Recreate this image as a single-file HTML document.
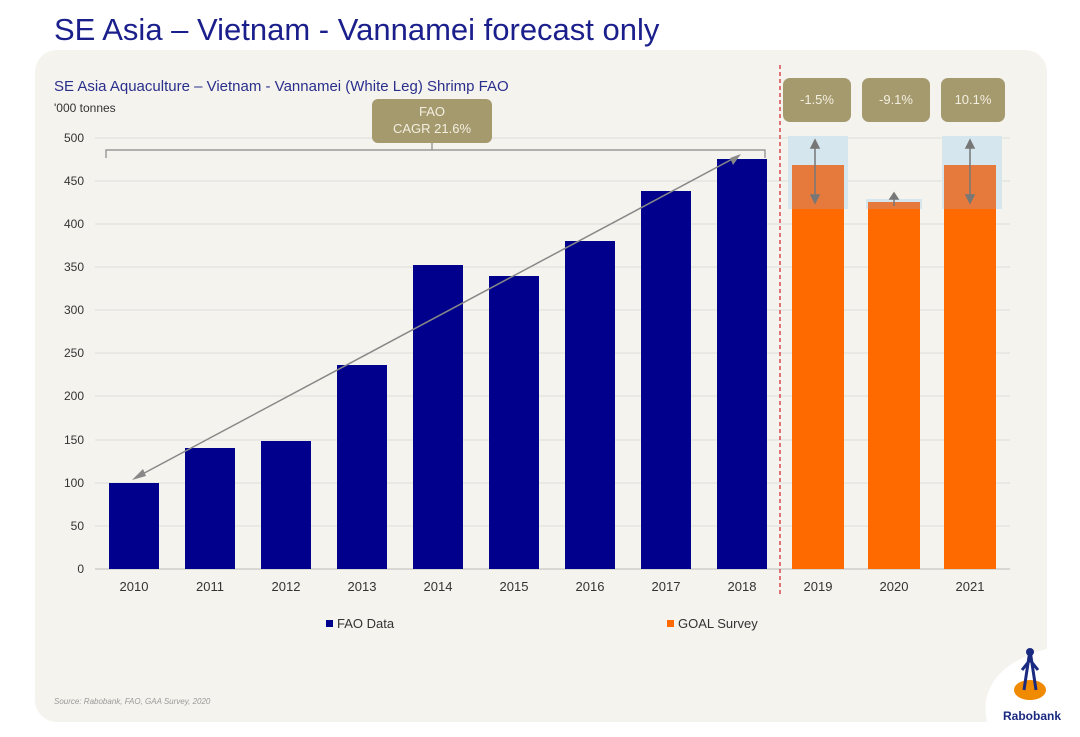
<!DOCTYPE html>
<html><head><meta charset="utf-8"><style>
body{margin:0;width:1080px;height:732px;background:#fff;overflow:hidden;font-family:"Liberation Sans",sans-serif}
</style></head><body>
<svg width="1080" height="732" viewBox="0 0 1080 732" font-family="Liberation Sans, sans-serif">
<rect x="35" y="50" width="1012" height="672" rx="22" fill="#f5f3ee"/>
<text x="54" y="40" font-size="31" fill="#1a1f8c">SE Asia – Vietnam - Vannamei forecast only</text>
<text x="54" y="91" font-size="15" fill="#2a2f8c">SE Asia Aquaculture – Vietnam - Vannamei (White Leg) Shrimp FAO</text>
<text x="54" y="112" font-size="12" fill="#333">'000 tonnes</text>
<g stroke="#dcdcdc" stroke-width="1">
<line x1="95" x2="1010" y1="138" y2="138"/><line x1="95" x2="1010" y1="181" y2="181"/>
<line x1="95" x2="1010" y1="224" y2="224"/><line x1="95" x2="1010" y1="267" y2="267"/>
<line x1="95" x2="1010" y1="310" y2="310"/><line x1="95" x2="1010" y1="353" y2="353"/>
<line x1="95" x2="1010" y1="396" y2="396"/><line x1="95" x2="1010" y1="440" y2="440"/>
<line x1="95" x2="1010" y1="483" y2="483"/><line x1="95" x2="1010" y1="526" y2="526"/>
<line x1="95" x2="1010" y1="569" y2="569" stroke="#bbb"/>
</g>
<g font-size="12" fill="#333" text-anchor="end">
<text x="84" y="142">500</text><text x="84" y="185">450</text><text x="84" y="228">400</text>
<text x="84" y="271">350</text><text x="84" y="314">300</text><text x="84" y="357">250</text>
<text x="84" y="400">200</text><text x="84" y="444">150</text><text x="84" y="487">100</text>
<text x="84" y="530">50</text><text x="84" y="573">0</text>
</g>
<g fill="#00008c">
<rect x="109" y="483" width="50" height="86"/>
<rect x="185" y="448" width="50" height="121"/>
<rect x="261" y="441" width="50" height="128"/>
<rect x="337" y="365" width="50" height="204"/>
<rect x="413" y="265" width="50" height="304"/>
<rect x="489" y="276" width="50" height="293"/>
<rect x="565" y="241" width="50" height="328"/>
<rect x="641" y="191" width="50" height="378"/>
<rect x="717" y="159" width="50" height="410"/>
</g>
<rect x="788" y="136" width="60" height="73" fill="#d5e6ee"/>
<rect x="942" y="136" width="60" height="73" fill="#d5e6ee"/>
<rect x="866" y="199" width="56" height="10" fill="#d5e6ee"/>
<rect x="792" y="209" width="52" height="360" fill="#ff6a00"/>
<rect x="868" y="209" width="52" height="360" fill="#ff6a00"/>
<rect x="944" y="209" width="52" height="360" fill="#ff6a00"/>
<rect x="792" y="165" width="52" height="44" fill="#e57a3c"/>
<rect x="868" y="202" width="52" height="7" fill="#e57a3c"/>
<rect x="944" y="165" width="52" height="44" fill="#e57a3c"/>
<g stroke="#777" stroke-width="1.5" fill="#777">
<line x1="815" y1="145" x2="815" y2="198"/><polygon points="811,148 819,148 815,140"/><polygon points="811,195 819,195 815,203"/>
<line x1="970" y1="145" x2="970" y2="198"/><polygon points="966,148 974,148 970,140"/><polygon points="966,195 974,195 970,203"/>
<line x1="894" y1="197" x2="894" y2="206"/><polygon points="890,199 898,199 894,193"/>
</g>
<line x1="780" y1="65" x2="780" y2="595" stroke="#d0202a" stroke-width="1.2" stroke-dasharray="4,3"/>
<g fill="#a59a6e">
<rect x="783" y="78" width="68" height="44" rx="7"/>
<rect x="862" y="78" width="68" height="44" rx="7"/>
<rect x="941" y="78" width="64" height="44" rx="7"/>
<rect x="372" y="99" width="120" height="44" rx="6"/>
</g>
<g fill="#f3efe0" font-size="13" text-anchor="middle">
<text x="817" y="104">-1.5%</text><text x="896" y="104">-9.1%</text><text x="973" y="104">10.1%</text>
<text x="432" y="116">FAO</text><text x="432" y="133">CAGR 21.6%</text>
</g>
<path d="M106 158 V150 H765 V158 M432 150 V143" stroke="#888" stroke-width="1.2" fill="none"/>
<line x1="135" y1="478" x2="738" y2="156" stroke="#888" stroke-width="1.5"/>
<polygon points="132,480 143,469 146,476" fill="#888"/>
<polygon points="741,154 730,158 733,165" fill="#888"/>
<g font-size="13" fill="#333" text-anchor="middle">
<text x="134" y="591">2010</text><text x="210" y="591">2011</text><text x="286" y="591">2012</text>
<text x="362" y="591">2013</text><text x="438" y="591">2014</text><text x="514" y="591">2015</text>
<text x="590" y="591">2016</text><text x="666" y="591">2017</text><text x="742" y="591">2018</text>
<text x="818" y="591">2019</text><text x="894" y="591">2020</text><text x="970" y="591">2021</text>
</g>
<rect x="326" y="620" width="7" height="7" fill="#00008c"/>
<text x="337" y="628" font-size="13" fill="#333">FAO Data</text>
<rect x="667" y="620" width="7" height="7" fill="#ff6a00"/>
<text x="678" y="628" font-size="13" fill="#333">GOAL Survey</text>
<text x="54" y="704" font-size="8" font-style="italic" fill="#999">Source: Rabobank, FAO, GAA Survey, 2020</text>
<path d="M990 732 Q975 690 1010 665 Q1050 640 1080 650 V732 Z" fill="#fff"/>
<ellipse cx="1030" cy="690" rx="16" ry="10" fill="#f08a00"/>
<path d="M1030 650 l-6 40 M1030 650 l6 40 M1030 660 l-8 10 M1030 660 l8 10" stroke="#1a2a80" stroke-width="3" fill="none"/>
<circle cx="1030" cy="652" r="4" fill="#1a2a80"/>
<text x="1032" y="720" font-size="12" font-weight="bold" fill="#1a2a80" text-anchor="middle">Rabobank</text>
</svg>
</body></html>
